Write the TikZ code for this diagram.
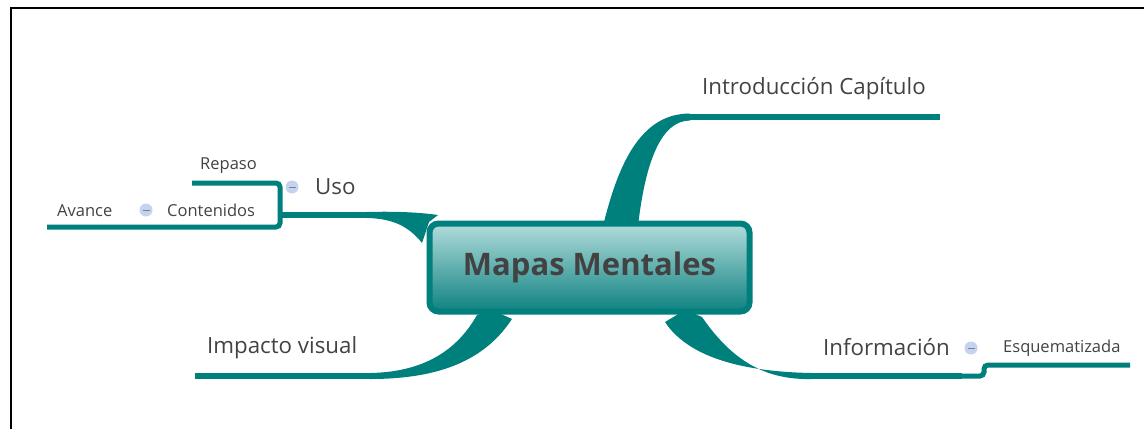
\documentclass[tikz,border=0pt]{standalone}
\usepackage{fontspec}
\setmainfont{Open Sans}
\usetikzlibrary{positioning}
\definecolor{mapteal}{RGB}{0,128,124}
\definecolor{boxtop}{RGB}{178,220,220}
\definecolor{boxbot}{RGB}{14,130,128}
\definecolor{ink}{RGB}{66,66,66}
\definecolor{minusfill}{RGB}{196,212,240}

\begin{document}
\begin{tikzpicture}[
  x = 1pt, y = -1pt,
  frame/.style = {line width=1.4pt, black},
  branch/.style = {line width=6pt, color=mapteal},
  twig/.style = {line width=5pt, color=mapteal, rounded corners=4pt},
  taper/.style = {fill=mapteal},
  central/.style = {draw=mapteal, line width=6pt, rounded corners=9pt,
    top color=boxtop, bottom color=boxbot, text=ink,
    minimum width=320pt, minimum height=88pt,
    font=\fontsize{31}{35}\selectfont\bfseries},
  label/.style = {text=ink, inner sep=0pt, anchor=base west,
    font=\fontsize{22.3}{26}\selectfont},
  sublabel/.style = {text=ink, inner sep=0pt, anchor=base west,
    font=\fontsize{16.5}{19}\selectfont},
  minus/.style = {circle, fill=minusfill, minimum size=13pt, inner sep=0pt,
    path picture={\draw[gray, line width=1pt]
      ([xshift=-3.5pt]path picture bounding box.center) --
      ([xshift=3.5pt]path picture bounding box.center);}},
]

  \useasboundingbox (0,0) rectangle (1144,429);
  \draw[frame] (11,429) -- (11,8) -- (1144,8);

  % line ends
  \coordinate (introA) at (690,117);
  \coordinate (introB) at (940,117);
  \coordinate (usoA) at (280,215);
  \coordinate (usoB) at (369,215);
  \coordinate (repA) at (192,183);
  \coordinate (contB) at (280,227);
  \coordinate (avA) at (47,227);
  \coordinate (impA) at (195,376);
  \coordinate (impB) at (371,376);
  \coordinate (infoA) at (810,376);
  \coordinate (infoB) at (962,376);
  \coordinate (esqA) at (984,365);
  \coordinate (esqB) at (1130,365);

  % tapered branches, under the box
  \fill[taper] (603,226) .. controls (618,165) and (640,113.5) .. (690,113.5)
    -- (690,120.5) .. controls (660,120.5) and (645,165) .. (638,226) -- cycle;
  \fill[taper] (367,212) .. controls (400,211) and (425,213) .. (438,215)
    -- (429,222) -- (422,243) .. controls (410,228) and (395,218.5) .. (367,218) -- cycle;
  \fill[taper] (370,373) .. controls (430,372) and (460,345) .. (477,315)
    -- (492,310) -- (512,319) .. controls (485,360) and (440,379) .. (370,379) -- cycle;
  \fill[taper] (665,322) .. controls (690,360) and (750,372) .. (812,373)
    -- (812,379) .. controls (770,380) and (735,365) .. (702,317)
    -- (685,310) -- cycle;

  \node[central] (mm) at (589.5,267.5) {Mapas Mentales};

  \draw[branch] (introA) -- (introB);
  \draw[branch] (usoA) -- (usoB);
  \draw[twig] (repA) -| (contB) -- (avA);
  \draw[branch] (impA) -- (impB);
  \draw[branch] (infoA) -- (infoB);
  \draw[twig] (infoB) -| (esqA) -- (esqB);

  \node[label] (intro) at (702,94) {Introducción Capítulo};
  \node[label] (uso) at (315,194) {Uso};
  \node[label] (impacto) at (207,353) {Impacto visual};
  \node[label] (info) at (823,355) {Información};
  \node[sublabel] (repaso) at (200,169) {Repaso};
  \node[sublabel] (contenidos) at (167,216) {Contenidos};
  \node[sublabel] (avance) at (57,216) {Avance};
  \node[sublabel] (esq) at (1003,352) {Esquematizada};

  \node[minus] (usoMinus) at (292,187) {};
  \node[minus] (contMinus) at (146,210) {};
  \node[minus] (infoMinus) at (971,348) {};

\end{tikzpicture}
\end{document}
